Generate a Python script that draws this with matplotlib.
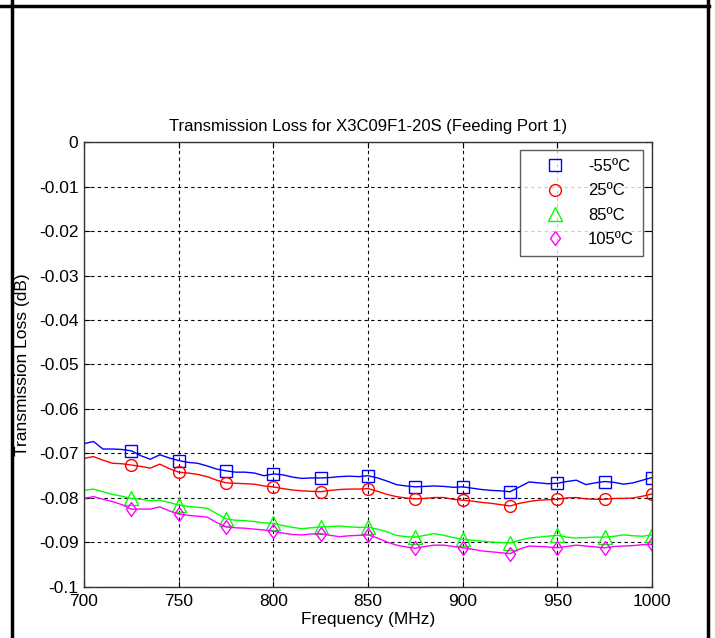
import numpy as np
import matplotlib
matplotlib.use("Agg")
import matplotlib.pyplot as plt
from matplotlib.lines import Line2D

plt.rcParams['font.family'] = ['Liberation Sans', 'DejaVu Sans']

# frequency points, 5 MHz step
freq = np.arange(700, 1001, 5)

loss_m55 = [-0.0678, -0.0673, -0.0690, -0.0690, -0.0691, -0.0694, -0.0705, -0.0713, -0.0703, -0.0710,
            -0.0716, -0.0720, -0.0722, -0.0728, -0.0735, -0.0739, -0.0742, -0.0742, -0.0744, -0.0750,
            -0.0746, -0.0748, -0.0753, -0.0756, -0.0755, -0.0755, -0.0754, -0.0752, -0.0751, -0.0752,
            -0.0750, -0.0755, -0.0762, -0.0770, -0.0773, -0.0775, -0.0774, -0.0773, -0.0774, -0.0776,
            -0.0775, -0.0778, -0.0781, -0.0783, -0.0784, -0.0786, -0.0775, -0.0764, -0.0766, -0.0768,
            -0.0767, -0.0763, -0.0760, -0.0770, -0.0766, -0.0763, -0.0765, -0.0769, -0.0766, -0.0760,
            -0.0754]
loss_25 = [-0.0711, -0.0707, -0.0715, -0.0722, -0.0723, -0.0726, -0.0729, -0.0733, -0.0724, -0.0734,
           -0.0742, -0.0744, -0.0747, -0.0752, -0.0760, -0.0766, -0.0767, -0.0768, -0.0769, -0.0773,
           -0.0775, -0.0779, -0.0782, -0.0784, -0.0785, -0.0786, -0.0783, -0.0781, -0.0780, -0.0780,
           -0.0779, -0.0785, -0.0792, -0.0797, -0.0800, -0.0802, -0.0801, -0.0799, -0.0799, -0.0803,
           -0.0805, -0.0807, -0.0810, -0.0812, -0.0815, -0.0818, -0.0812, -0.0808, -0.0805, -0.0804,
           -0.0803, -0.0800, -0.0799, -0.0802, -0.0803, -0.0803, -0.0801, -0.0801, -0.0800, -0.0796,
           -0.0791]
loss_85 = [-0.0783, -0.0780, -0.0786, -0.0792, -0.0796, -0.0801, -0.0803, -0.0806, -0.0805, -0.0810,
           -0.0816, -0.0819, -0.0821, -0.0823, -0.0835, -0.0847, -0.0850, -0.0851, -0.0853, -0.0856,
           -0.0857, -0.0862, -0.0866, -0.0869, -0.0867, -0.0865, -0.0864, -0.0863, -0.0865, -0.0866,
           -0.0866, -0.0870, -0.0876, -0.0884, -0.0887, -0.0888, -0.0884, -0.0880, -0.0884, -0.0889,
           -0.0893, -0.0895, -0.0897, -0.0899, -0.0900, -0.0901, -0.0895, -0.0890, -0.0888, -0.0886,
           -0.0884, -0.0888, -0.0890, -0.0889, -0.0888, -0.0888, -0.0886, -0.0883, -0.0885, -0.0886,
           -0.0883]
loss_105 = [-0.0801, -0.0797, -0.0803, -0.0808, -0.0815, -0.0825, -0.0825, -0.0825, -0.0820, -0.0829,
            -0.0836, -0.0839, -0.0841, -0.0843, -0.0855, -0.0865, -0.0867, -0.0868, -0.0870, -0.0872,
            -0.0875, -0.0879, -0.0882, -0.0883, -0.0881, -0.0880, -0.0884, -0.0887, -0.0885, -0.0884,
            -0.0883, -0.0890, -0.0899, -0.0906, -0.0910, -0.0913, -0.0909, -0.0906, -0.0906, -0.0909,
            -0.0912, -0.0915, -0.0919, -0.0921, -0.0923, -0.0925, -0.0915, -0.0908, -0.0909, -0.0910,
            -0.0912, -0.0909, -0.0906, -0.0908, -0.0910, -0.0912, -0.0909, -0.0908, -0.0907, -0.0905,
            -0.0904]

labels = ['-55ºC', '25ºC', '85ºC', '105ºC']
series = [loss_m55, loss_25, loss_85, loss_105]
colors = ['#0000ff', '#ff0000', '#00ff00', '#ff00ff']
# matlab style diamond: taller than wide
diamond = [(0, 1), (0.72, 0), (0, -1), (-0.72, 0), (0, 1)]
markers = ['s', 'o', '^', diamond]
msizes = [9, 8.5, 9.5, 10]

fig = plt.figure(figsize=(7.15, 6.38), dpi=100)
ax = fig.add_axes([0.1175, 0.080, 0.7945, 0.6974])

# markers every 25 MHz, starting at 725
mk = slice(5, None, 5)
for y, c, m, ms, lab in zip(series, colors, markers, msizes, labels):
    y = np.asarray(y)
    ax.plot(freq, y, color=c, lw=1.0)
    ax.plot(freq[mk], y[mk], linestyle='none', marker=m, ms=ms,
            mfc='none', mec=c, mew=1.0, label=lab)

ax.set_xlim(700, 1000)
ax.set_ylim(-0.1, 0)
ax.set_xticks(np.arange(700, 1001, 50))
ax.set_yticks(np.arange(-0.1, 0.001, 0.01))
ax.set_yticklabels(['-0.1', '-0.09', '-0.08', '-0.07', '-0.06', '-0.05',
                    '-0.04', '-0.03', '-0.02', '-0.01', '0'])
ax.grid(True, color='black', linestyle=(0, (3, 3)), lw=0.8)
ax.tick_params(direction='in', top=True, right=True, length=4, labelsize=12.5)
ax.tick_params(axis='x', pad=5)
ax.tick_params(axis='y', pad=4)
for s in ax.spines.values():
    s.set_linewidth(1.0)
    s.set_color('#333333')

ax.set_title('Transmission Loss for X3C09F1-20S (Feeding Port 1)', fontsize=12, pad=8)
ax.set_xlabel('Frequency (MHz)', fontsize=12.5, labelpad=2)
ax.set_ylabel('Transmission Loss (dB)', fontsize=12.5, labelpad=6)

leg = ax.legend(loc='upper right', bbox_to_anchor=(0.984, 0.982), fontsize=12,
                frameon=True, fancybox=False, edgecolor='#333333', handletextpad=0.45,
                borderpad=0.55, labelspacing=0.55, handlelength=3.1, borderaxespad=0)
leg.get_frame().set_linewidth(1.0)

# surrounding table-cell border
W, H = 715, 638
fig.add_artist(Line2D([12 / W, 12 / W], [0, 1], color='black', lw=2.5, transform=fig.transFigure))
fig.add_artist(Line2D([708 / W, 708 / W], [0, 1], color='black', lw=2.5, transform=fig.transFigure))
fig.add_artist(Line2D([0, 709 / W], [1 - 5.5 / H, 1 - 5.5 / H], color='black', lw=2.5, transform=fig.transFigure))

fig.savefig('out.png', dpi=100)
